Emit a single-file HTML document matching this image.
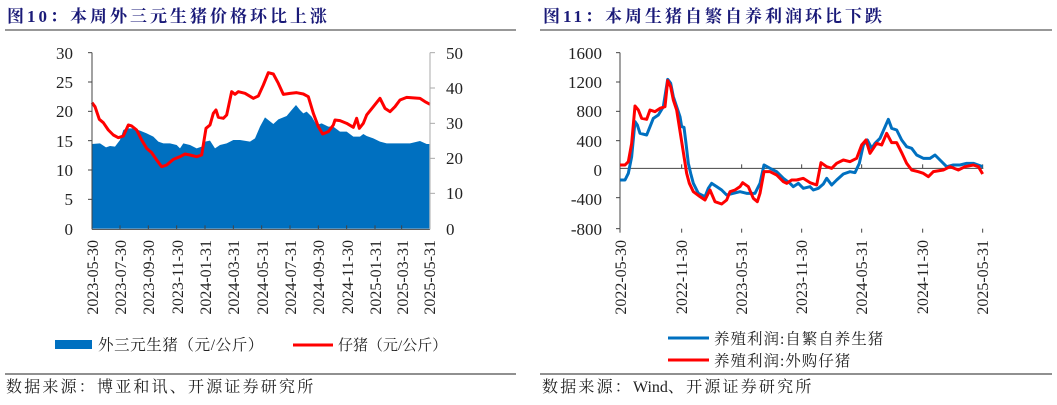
<!DOCTYPE html>
<html><head><meta charset="utf-8"><style>
body{margin:0;background:#fff;width:1057px;height:400px;overflow:hidden}
svg text{font-family:"Liberation Serif","Noto Serif CJK SC",serif}
</style></head><body>
<svg width="1057" height="400" viewBox="0 0 1057 400">
<text x="7" y="22" font-size="17" font-weight="bold" fill="#1a1a78" letter-spacing="3">图10：本周外三元生猪价格环比上涨</text>
<text x="543" y="22" font-size="17" font-weight="bold" fill="#1a1a78" letter-spacing="3">图11：本周生猪自繁自养利润环比下跌</text>
<line x1="5" y1="30" x2="516" y2="30" stroke="#777" stroke-width="1.5"/>
<line x1="540" y1="30" x2="1052" y2="30" stroke="#777" stroke-width="1.5"/>
<line x1="5" y1="374" x2="516" y2="374" stroke="#222" stroke-width="1"/>
<line x1="540" y1="374" x2="1052" y2="374" stroke="#222" stroke-width="1"/>
<text x="6" y="392" font-size="16" fill="#222" letter-spacing="2.2">数据来源：博亚和讯、开源证券研究所</text>
<text x="542" y="392" font-size="16" fill="#222" letter-spacing="2.2">数据来源：<tspan letter-spacing="0">Wind</tspan>、开源证券研究所</text>

<!-- Left chart -->
<g transform="translate(0,30) scale(0.33333)">
<polygon fill="#0070c0" points="276,596 276,342 300,340 318,352 330,348 345,350 360,330 370,300 380,295 400,295 420,302 440,310 460,320 475,335 490,340 510,340 530,345 540,355 550,340 570,345 590,355 605,350 615,335 630,332 645,355 660,345 680,340 700,330 720,330 750,335 765,325 780,290 795,262 820,282 835,268 860,258 875,240 888,225 900,240 910,250 920,245 935,260 950,285 965,280 985,290 1000,290 1020,305 1040,305 1060,320 1080,320 1090,312 1100,318 1120,325 1140,335 1160,340 1190,340 1230,340 1260,333 1280,342 1288,342 1288,596"/>
<polyline fill="none" stroke="#ff0000" stroke-width="9" stroke-linejoin="round" points="276,218 285,230 298,268 310,278 325,300 340,315 355,323 370,318 385,285 395,288 410,300 425,330 440,355 455,368 470,390 485,410 500,405 520,388 540,380 555,372 570,375 590,380 605,375 618,295 630,285 640,250 648,240 655,262 670,265 680,255 695,185 705,193 715,185 735,190 760,205 775,198 790,165 805,128 820,132 835,160 850,193 870,190 890,188 910,192 925,200 940,250 955,290 968,312 985,305 1000,285 1005,270 1020,272 1040,280 1060,292 1070,265 1078,295 1090,280 1100,255 1120,230 1140,205 1155,235 1170,245 1185,230 1200,210 1220,202 1260,205 1275,215 1290,223"/>
<g stroke="#444" stroke-width="3">
<line x1="276" y1="68" x2="276" y2="598"/><line x1="276" y1="598" x2="1290" y2="598"/>
<line x1="264" y1="68" x2="276" y2="68"/><line x1="264" y1="156" x2="276" y2="156"/><line x1="264" y1="244" x2="276" y2="244"/><line x1="264" y1="332" x2="276" y2="332"/><line x1="264" y1="420" x2="276" y2="420"/><line x1="264" y1="508" x2="276" y2="508"/>
<line x1="360" y1="598" x2="360" y2="586"/><line x1="445" y1="598" x2="445" y2="586"/><line x1="530" y1="598" x2="530" y2="586"/><line x1="615" y1="598" x2="615" y2="586"/><line x1="700" y1="598" x2="700" y2="586"/><line x1="785" y1="598" x2="785" y2="586"/><line x1="870" y1="598" x2="870" y2="586"/><line x1="955" y1="598" x2="955" y2="586"/><line x1="1040" y1="598" x2="1040" y2="586"/><line x1="1125" y1="598" x2="1125" y2="586"/><line x1="1205" y1="598" x2="1205" y2="586"/>
</g>
<g stroke="#aaa" stroke-width="3">
<line x1="1290" y1="68" x2="1290" y2="598"/>
<line x1="1290" y1="68" x2="1305" y2="68"/><line x1="1290" y1="174" x2="1305" y2="174"/><line x1="1290" y1="280" x2="1305" y2="280"/><line x1="1290" y1="385" x2="1305" y2="385"/><line x1="1290" y1="490" x2="1305" y2="490"/>
</g>
</g>
<g font-size="17" fill="#222" text-anchor="end">
<text x="73" y="59">30</text><text x="73" y="88">25</text><text x="73" y="117">20</text><text x="73" y="147">15</text><text x="73" y="176">10</text><text x="73" y="205">5</text><text x="73" y="235">0</text>
</g>
<g font-size="17" fill="#222" text-anchor="start">
<text x="446" y="59">50</text><text x="446" y="94">40</text><text x="446" y="129">30</text><text x="446" y="164">20</text><text x="446" y="199">10</text><text x="446" y="235">0</text>
</g>
<g font-size="16" fill="#222" text-anchor="end">
<text transform="translate(98,240) rotate(-90)">2023-05-30</text>
<text transform="translate(126,240) rotate(-90)">2023-07-30</text>
<text transform="translate(154,240) rotate(-90)">2023-09-30</text>
<text transform="translate(183,240) rotate(-90)">2023-11-30</text>
<text transform="translate(211,240) rotate(-90)">2024-01-31</text>
<text transform="translate(239,240) rotate(-90)">2024-03-31</text>
<text transform="translate(268,240) rotate(-90)">2024-05-31</text>
<text transform="translate(296,240) rotate(-90)">2024-07-31</text>
<text transform="translate(324,240) rotate(-90)">2024-09-30</text>
<text transform="translate(353,240) rotate(-90)">2024-11-30</text>
<text transform="translate(381,240) rotate(-90)">2025-01-31</text>
<text transform="translate(408,240) rotate(-90)">2025-03-31</text>
<text transform="translate(435,240) rotate(-90)">2025-05-31</text>
</g>
<rect x="55" y="340" width="37" height="9" fill="#0070c0"/>
<text x="98" y="350" font-size="15.5" fill="#222" letter-spacing="0.6">外三元生猪（元/公斤）</text>
<line x1="293" y1="345" x2="333" y2="345" stroke="#ff0000" stroke-width="3"/>
<text x="338" y="350" font-size="15" fill="#222">仔猪（元/公斤）</text>

<!-- Right chart -->
<g transform="translate(540,30) scale(0.33333)">
<g stroke="#444" stroke-width="3">
<line x1="240" y1="68" x2="240" y2="596"/>
<line x1="240" y1="415" x2="1330" y2="415"/>
<line x1="228" y1="68" x2="240" y2="68"/><line x1="228" y1="156" x2="240" y2="156"/><line x1="228" y1="244" x2="240" y2="244"/><line x1="228" y1="332" x2="240" y2="332"/><line x1="228" y1="503" x2="240" y2="503"/><line x1="228" y1="596" x2="240" y2="596"/>
<line x1="425" y1="415" x2="425" y2="403"/><line x1="605" y1="415" x2="605" y2="403"/><line x1="785" y1="415" x2="785" y2="403"/><line x1="965" y1="415" x2="965" y2="403"/><line x1="1148" y1="415" x2="1148" y2="403"/><line x1="1328" y1="415" x2="1328" y2="403"/>
</g>
<polyline fill="none" stroke="#0070c0" stroke-width="9" stroke-linejoin="round" points="240,450 255,450 265,430 275,380 285,275 292,285 300,310 320,315 330,290 340,265 355,255 370,230 383,148 392,160 400,200 410,230 420,260 425,290 432,292 438,340 445,400 452,430 460,460 475,490 495,500 505,475 515,460 530,470 545,480 560,495 580,490 600,485 620,490 645,490 660,460 672,405 690,415 710,425 730,445 750,460 760,470 775,460 790,475 810,470 820,480 835,475 850,462 860,445 875,465 890,450 910,432 930,425 945,428 958,400 970,345 982,330 995,355 1005,340 1020,325 1045,268 1055,295 1070,300 1085,330 1100,350 1115,355 1130,375 1150,385 1170,385 1185,375 1200,390 1220,410 1240,405 1260,405 1280,400 1300,400 1328,410"/>
<polyline fill="none" stroke="#ff0000" stroke-width="9" stroke-linejoin="round" points="240,405 255,405 265,395 275,340 285,228 295,240 305,265 320,268 330,240 345,245 360,235 375,230 383,152 392,170 400,210 410,240 425,335 440,430 448,460 460,485 480,500 495,510 510,480 525,515 545,522 560,510 570,485 585,480 600,470 608,458 625,470 640,505 652,515 660,490 672,425 690,425 710,435 730,455 740,460 755,450 770,450 790,445 810,458 830,465 843,398 860,410 875,415 890,400 910,390 930,395 950,385 965,345 978,330 990,370 1010,340 1025,345 1040,310 1055,338 1070,338 1085,368 1100,400 1115,420 1135,425 1150,430 1165,440 1180,425 1210,420 1230,410 1255,420 1275,410 1300,405 1315,410 1328,432"/>
<g stroke="#444" stroke-width="3">
<line x1="240" y1="596" x2="240" y2="608"/><line x1="425" y1="596" x2="425" y2="608"/><line x1="605" y1="596" x2="605" y2="608"/><line x1="785" y1="596" x2="785" y2="608"/><line x1="965" y1="596" x2="965" y2="608"/><line x1="1148" y1="596" x2="1148" y2="608"/><line x1="1328" y1="596" x2="1328" y2="608"/>
</g>
</g>
<g font-size="17" fill="#222" text-anchor="end">
<text x="602" y="59">1600</text><text x="602" y="88">1200</text><text x="602" y="117">800</text><text x="602" y="147">400</text><text x="602" y="176">0</text><text x="602" y="205">-400</text><text x="602" y="235">-800</text>
</g>
<g font-size="16" fill="#222" text-anchor="end">
<text transform="translate(626,240) rotate(-90)">2022-05-30</text>
<text transform="translate(687,240) rotate(-90)">2022-11-30</text>
<text transform="translate(747,240) rotate(-90)">2023-05-31</text>
<text transform="translate(807,240) rotate(-90)">2023-11-30</text>
<text transform="translate(867,240) rotate(-90)">2024-05-31</text>
<text transform="translate(928,240) rotate(-90)">2024-11-30</text>
<text transform="translate(988,240) rotate(-90)">2025-05-31</text>
</g>
<line x1="668" y1="338" x2="709" y2="338" stroke="#0070c0" stroke-width="3"/>
<text x="714" y="344" font-size="15.5" fill="#222" letter-spacing="1">养殖利润:自繁自养生猪</text>
<line x1="668" y1="360" x2="709" y2="360" stroke="#ff0000" stroke-width="3"/>
<text x="714" y="366" font-size="15.5" fill="#222" letter-spacing="1">养殖利润:外购仔猪</text>
</svg>
</body></html>
